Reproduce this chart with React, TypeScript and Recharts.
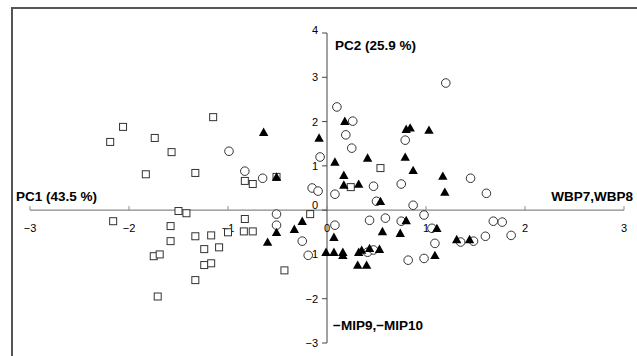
import { ScatterChart, Scatter, XAxis, YAxis, ReferenceLine, ReferenceDot } from "recharts";

// PCA scores: open squares, open circles, filled triangles
const squaresX = [-2.06, -2.19, -1.74, -1.57, -1.83, -1.33, -1.15, -1.5, -1.42, -2.16, -1.58, -1.58, -1.33, -1.17, -1.24, -1.09, -1.75, -1.69, -1.24, -1.17, -1.33, -1.71, -0.83, -0.75, -0.83, -0.84, -0.75, -1.0, -0.43, -0.17, -0.51, 0.54, 0.24];
const squaresY = [1.88, 1.54, 1.63, 1.31, 0.81, 0.84, 2.1, -0.02, -0.07, -0.25, -0.36, -0.7, -0.59, -0.57, -0.88, -0.84, -1.04, -1.0, -1.24, -1.2, -1.58, -1.95, 0.66, 0.59, -0.2, -0.48, -0.48, -0.5, -1.36, -0.09, 0.75, 0.95, 0.52];

const circlesX = [-0.99, -0.83, -0.65, -0.51, -0.51, -0.25, -0.19, -0.07, -0.15, -0.09, 0.1, 0.26, 0.19, 0.25, 0.08, 0.08, 0.79, 1.2, 1.45, 0.47, 0.5, 0.75, 0.87, 0.98, 0.43, 0.59, 0.75, 1.06, 1.09, 0.41, 0.47, 0.82, 0.98, 1.35, 1.48, 1.61, 1.6, 1.68, 1.77, 1.86];
const circlesY = [1.33, 0.88, 0.72, -0.09, -0.34, -0.7, -1.02, 1.2, 0.5, 0.43, 2.33, 2.01, 1.7, 1.4, 0.36, -0.34, 1.58, 2.87, 0.72, 0.54, 0.2, 0.59, 0.11, -0.11, -0.23, -0.18, -0.25, -0.41, -0.75, -0.95, -0.9, -1.13, -1.09, -0.72, -0.7, 0.38, -0.59, -0.25, -0.27, -0.57];

const trianglesX = [-0.64, -0.08, 0.08, -0.51, 0.17, 0.17, 0.18, -0.51, -0.6, -0.33, -0.25, 0.07, -0.01, 0.07, 0.16, 0.16, 0.32, 0.35, 0.43, 0.53, 0.31, 0.4, 0.8, 0.84, 1.03, 0.41, 0.79, 0.87, 1.17, 0.32, 1.19, 0.54, 0.56, 0.74, 0.8, 1.11, 1.09, 1.31, 1.44];
const trianglesY = [1.76, 1.63, 1.09, 0.75, 0.79, 0.57, 2.01, -0.5, -0.72, -0.43, -0.25, -0.61, -0.95, -0.95, -0.95, -1.02, -0.95, -0.9, -0.86, -0.88, -1.24, -1.24, 1.83, 1.86, 1.81, 1.18, 1.2, 0.9, 0.77, 0.59, 0.41, 0.2, -0.48, -0.52, -0.23, -0.41, -1.02, -0.66, -0.66];

const xTicks = [-3, -2, -1, 0, 1, 2, 3];
const yTicks = [-3, -2, -1, 0, 1, 2, 3, 4];

const zip = (xs: number[], ys: number[]) => xs.map((x, i) => ({ x, y: ys[i] }));
const squares = zip(squaresX, squaresY);
const circles = zip(circlesX, circlesY);
const triangles = zip(trianglesX, trianglesY);

const FONT = "'Liberation Sans', Arial, sans-serif";
const INK = "#000";
const minus = (v: number) => (v < 0 ? "\u2212" + Math.abs(v) : String(v));

const Square = (p: any) => (
  <rect x={p.cx - 3.5} y={p.cy - 3.5} width={7} height={7} fill="#fff" stroke="#333" strokeWidth={1} />
);
const Circle = (p: any) => <circle cx={p.cx} cy={p.cy} r={4.3} fill="#fff" stroke="#333" strokeWidth={1} />;
const Triangle = (p: any) => (
  <polygon points={`${p.cx},${p.cy - 4.6} ${p.cx + 4.7},${p.cy + 3.8} ${p.cx - 4.7},${p.cy + 3.8}`} fill="#000" />
);

const text = (s: string, dx: number, dy: number, anchor: string, size: number, bold = false) =>
  (p: any) => (
    <text x={p.cx + dx} y={p.cy + dy} textAnchor={anchor} fontSize={size} fontWeight={bold ? 700 : 400} fontFamily={FONT} fill={INK}>
      {s}
    </text>
  );

export default function App() {
  return (
    <div style={{ position: "absolute", left: 0, top: 0, width: 637, height: 356, overflow: "hidden", background: "#fff" }}>
      <div style={{ position: "absolute", left: 11, top: 7, width: 700, height: 400, borderLeft: "2px solid #555", borderTop: "2px solid #555" }} />
      <div style={{ position: "absolute", left: 0, top: 0 }}>
        <ScatterChart width={637} height={356} margin={{ top: 33, right: 13, bottom: 13, left: 30 }}>
          <XAxis type="number" dataKey="x" domain={[-3, 3]} hide />
          <YAxis type="number" dataKey="y" domain={[-3, 4]} hide />

          {/* axes crossing at the origin */}
          <ReferenceLine segment={[{ x: -3, y: 0 }, { x: 3, y: 0 }]} stroke="#888" strokeWidth={1.2} />
          <ReferenceLine segment={[{ x: 0, y: -3 }, { x: 0, y: 4 }]} stroke="#444" strokeWidth={1} />
          {xTicks.map((t) => (
            <ReferenceLine key={"xt" + t} segment={[{ x: t, y: 0 }, { x: t, y: 0.09 }]} stroke="#888" />
          ))}
          {yTicks.map((t) => (
            <ReferenceLine key={"yt" + t} segment={[{ x: 0, y: t }, { x: -0.05, y: t }]} stroke="#444" />
          ))}
          {xTicks.map((t) => (
            <ReferenceDot key={"xl" + t} x={t} y={0} r={0} shape={text(minus(t), 0, 22, "middle", 11)} />
          ))}
          {yTicks.map((t) => (
            <ReferenceDot key={"yl" + t} x={0} y={t} r={0} shape={text(minus(t), -9, t === 0 ? -1 : t === 4 ? 1 : 4, "end", 11)} />
          ))}

          <ReferenceDot x={-3} y={0} r={0} shape={text("PC1 (43.5 %)", -14, -9, "start", 13.5, true)} />
          <ReferenceDot x={3} y={0} r={0} shape={text("WBP7,WBP8", 9, -9, "end", 13.5, true)} />
          <ReferenceDot x={0} y={4} r={0} shape={text("PC2 (25.9 %)", 8, 17, "start", 13.5, true)} />
          <ReferenceDot x={0} y={-3} r={0} shape={text("\u2212MIP9,\u2212MIP10", 6, -13, "start", 13.5, true)} />

          <Scatter data={squares} shape={Square} isAnimationActive={false} />
          <Scatter data={circles} shape={Circle} isAnimationActive={false} />
          <Scatter data={triangles} shape={Triangle} isAnimationActive={false} />
        </ScatterChart>
      </div>
    </div>
  );
}
